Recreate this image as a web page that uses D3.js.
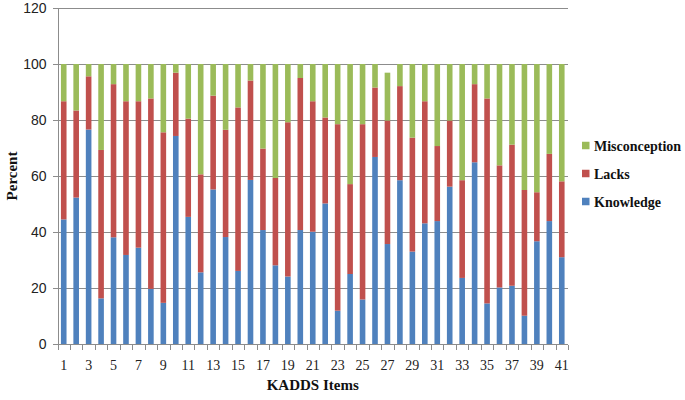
<!DOCTYPE html>
<html>
  <head>
    <meta charset="utf-8">
    <script src="https://cdn.jsdelivr.net/npm/d3@7/dist/d3.min.js"></script>
    <style type="text/css">
      body { margin: 0; background: #fff; }
      line.grid { stroke: #8c8c8c; stroke-width: 1; shape-rendering: crispEdges; }
      .axis path, .axis line { stroke: #8c8c8c; shape-rendering: crispEdges; }
      .y.axis text { font-family: "Liberation Sans", Arial, sans-serif; font-size: 14px; fill: #222; }
      .x.axis text { font-family: "Liberation Serif", "Times New Roman", serif; font-size: 14px; fill: #222; }
      text.title { font-family: "Liberation Serif", "Times New Roman", serif; font-weight: bold; font-size: 15px; fill: #111; }
      text.legend { font-family: "Liberation Serif", "Times New Roman", serif; font-weight: bold; font-size: 14px; fill: #111; }
    </style>
  </head>
  <body>
    <script type="text/javascript">

      var items = d3.range(1, 42);
      var seriesNames = ["Knowledge", "Lacks", "Misconception"];
      var colors = ["#4f81bd", "#c0504d", "#9bbb59"];
      var yTicks = [0, 20, 40, 60, 80, 100, 120];

      // percent per item
      var knowledge = [44.5, 52.3, 76.6, 16.3, 38.1, 31.8, 34.4, 19.7, 14.7, 74.3,
                       45.4, 25.6, 55.2, 38.2, 26.1, 58.6, 40.7, 28.1, 24.1, 40.7,
                       40.1, 50.2, 11.9, 25.0, 15.9, 66.8, 35.7, 58.5, 33.0, 43.1,
                       43.9, 56.2, 23.6, 64.9, 14.5, 20.2, 20.8, 10.1, 36.7, 43.9, 31.0];
      var lacks = [42.2, 31.1, 19.0, 53.0, 54.7, 54.9, 52.3, 68.0, 60.9, 22.6,
                   35.1, 35.0, 33.5, 38.3, 58.4, 35.5, 29.1, 31.2, 55.1, 54.3,
                   46.6, 30.7, 66.6, 32.1, 62.6, 24.8, 44.1, 33.6, 40.7, 43.6,
                   26.8, 23.6, 34.9, 27.9, 73.2, 43.6, 50.4, 44.9, 17.5, 24.0, 27.1];
      var misconception = [13.3, 16.6, 4.4, 30.7, 7.2, 13.3, 13.3, 12.3, 24.4, 3.1,
                           19.5, 39.4, 11.3, 23.5, 15.5, 5.9, 30.2, 40.7, 20.8, 5.0,
                           13.3, 19.1, 21.5, 42.9, 21.5, 8.4, 17.1, 7.9, 26.3, 13.3,
                           29.3, 20.2, 41.5, 7.2, 12.3, 36.2, 28.8, 45.0, 45.8, 32.1, 41.9];

      var width = 685;
      var height = 400;
      var l = 57.5, r = 568, t = 8, b = 344;

      var svg = d3.select("body").append("svg")
        .attr("width", width)
        .attr("height", height);

      var x = d3.scaleBand().domain(items).range([l, r]).paddingInner(0.55).paddingOuter(0.275);
      var xStep = d3.scaleBand().domain(items).range([l, r]);
      var y = d3.scaleLinear().domain([0, 120]).range([b, t]);

      var rows = items.map(function(d, i) {
        return { item: d, Knowledge: knowledge[i], Lacks: lacks[i], Misconception: misconception[i] };
      });
      var stacked = d3.stack().keys(seriesNames)(rows);

      /* Grid */
      svg.selectAll("line.grid")
        .data(yTicks.slice(1))
        .enter()
        .append("line")
        .attr("class", "grid")
        .attr("x1", l)
        .attr("x2", r)
        .attr("y1", function(d) { return Math.round(y(d)) + 0.5; })
        .attr("y2", function(d) { return Math.round(y(d)) + 0.5; });

      /* Bars */
      svg.selectAll("g.series")
        .data(stacked)
        .enter()
        .append("g")
        .attr("fill", function(d, i) { return colors[i]; })
        .selectAll("rect")
        .data(function(d) { return d; })
        .enter()
        .append("rect")
        .attr("x", function(d) { return x(d.data.item); })
        .attr("width", x.bandwidth())
        .attr("y", function(d) { return y(d[1]); })
        .attr("height", function(d) { return y(d[0]) - y(d[1]); });

      /* Y axis */
      svg.append("g")
        .attr("class", "y axis")
        .attr("transform", "translate(" + l + ",0)")
        .call(d3.axisLeft(y).tickValues(yTicks).tickSize(5).tickPadding(6))
        .select(".domain").attr("d", "M0.5," + t + "V" + b);

      /* X axis: ticks between items, labels on odd items */
      var gx = svg.append("g")
        .attr("class", "x axis")
        .attr("transform", "translate(0," + (Math.round(b) + 0.5) + ")");
      gx.append("line")
        .attr("x1", l).attr("x2", r).attr("y1", 0).attr("y2", 0);
      gx.selectAll("line.tick")
        .data(items.concat([42]))
        .enter()
        .append("line")
        .attr("class", "tick")
        .attr("x1", function(d) { return Math.round(d === 42 ? r : xStep(d)) + 0.5; })
        .attr("x2", function(d) { return Math.round(d === 42 ? r : xStep(d)) + 0.5; })
        .attr("y1", 0)
        .attr("y2", 5);
      gx.selectAll("text")
        .data(items.filter(function(d) { return d % 2 === 1; }))
        .enter()
        .append("text")
        .attr("x", function(d) { return x(d) + x.bandwidth() / 2; })
        .attr("y", 25)
        .attr("text-anchor", "middle")
        .text(function(d) { return d; });

      /* Titles */
      svg.append("text")
        .attr("class", "title")
        .attr("text-anchor", "middle")
        .attr("x", (l + r) / 2)
        .attr("y", 390)
        .text("KADDS Items");

      svg.append("text")
        .attr("class", "title")
        .attr("text-anchor", "middle")
        .attr("transform", "translate(17," + ((t + b) / 2) + ") rotate(-90)")
        .text("Percent");

      /* Legend */
      var legend = svg.selectAll("g.legend")
        .data(seriesNames.slice().reverse())
        .enter()
        .append("g")
        .attr("class", "legend")
        .attr("transform", function(d, i) { return "translate(582," + (145.5 + i * 28) + ")"; });
      legend.append("rect")
        .attr("x", 0).attr("y", -3.75)
        .attr("width", 7.5).attr("height", 7.5)
        .attr("fill", function(d) { return colors[seriesNames.indexOf(d)]; });
      legend.append("text")
        .attr("class", "legend")
        .attr("x", 12)
        .attr("y", 5)
        .text(function(d) { return d; });

    </script>
  </body>
</html>
